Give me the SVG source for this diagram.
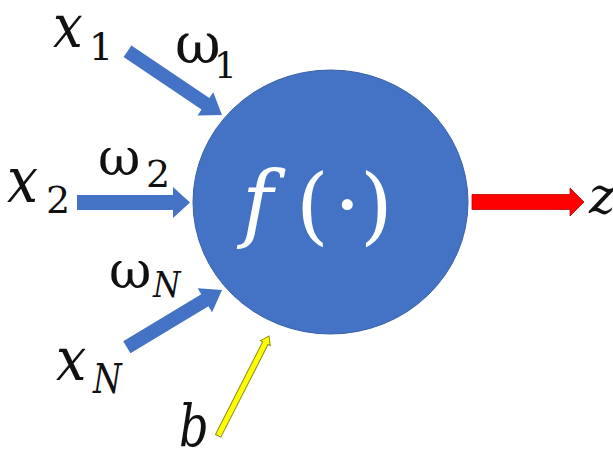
<svg xmlns="http://www.w3.org/2000/svg" width="613" height="449" viewBox="0 0 613 449">
<style>
.m{font-family:"DejaVu Serif",serif;font-style:italic;fill:#111}
.g{font-family:"DejaVu Serif",serif;fill:#111}
.blue{fill:#4472c4}
</style>
<rect width="613" height="449" fill="#fff"/>
<g id="neuron">
<ellipse cx="330.5" cy="202" rx="137.5" ry="132" fill="#4472c4" stroke="#3a62a8" stroke-width="1"/>
<text font-family="DejaVu Serif,serif" fill="#fff" font-size="84"><tspan x="242" y="231" font-style="italic">f</tspan><tspan x="296" y="234">(</tspan><tspan x="334" y="234">·</tspan><tspan x="360" y="234">)</tspan></text>
</g>
<g id="connectors">
<polygon class="blue" transform="translate(222,115) rotate(34)" points="-114,-7 -20,-7 -20,-14 0,0 -20,14 -20,7 -114,7"/>
<polygon class="blue" transform="translate(190,202.5)" points="-113,-7.5 -17,-7.5 -17,-15.5 0,0 -17,15.5 -17,7.5 -113,7.5"/>
<polygon class="blue" transform="translate(222,290) rotate(-31)" points="-111,-7 -20,-7 -20,-14 0,0 -20,14 -20,7 -111,7"/>
<polygon fill="#ff0000" stroke="#c00000" stroke-width="0.8" transform="translate(584,202)" points="-112,-7.5 -14,-7.5 -14,-14 0,0 -14,14 -14,7.5 -112,7.5"/>
<polygon fill="#ffff00" stroke="#8c8c1a" stroke-width="1" transform="translate(269,336) rotate(-63)" points="-112,-3 -8,-3 -8,-5.5 0,0 -8,5.5 -8,3 -112,3"/>
</g>
<g id="x1"><text class="m" font-size="60" transform="translate(53,47) scale(0.88,1)">x</text><text class="g" font-size="38" x="89" y="60">1</text></g>
<g id="w1"><text class="g" font-size="56" x="175" y="63">ω</text><text class="g" font-size="36" x="214" y="78">1</text></g>
<g id="x2"><text class="m" font-size="64" transform="translate(7,202) scale(0.86,1)">x</text><text class="g" font-size="38" x="46" y="213">2</text></g>
<g id="w2"><text class="g" font-size="52" x="98" y="175">ω</text><text class="g" font-size="38" x="146" y="187">2</text></g>
<g id="wN"><text class="g" font-size="52" x="109" y="288">ω</text><text class="m" font-size="35" transform="translate(153,297) scale(0.9,1)">N</text></g>
<g id="xN"><text class="m" font-size="60" transform="translate(56,380) scale(0.9,1)">x</text><text class="m" font-size="41" transform="translate(93,393) scale(0.8,1)">N</text></g>
<g id="b"><text class="m" font-size="58" transform="translate(179,446) scale(0.8,1)">b</text></g>
<g id="z"><text class="m" font-size="50" x="589" y="213">z</text></g>
</svg>
